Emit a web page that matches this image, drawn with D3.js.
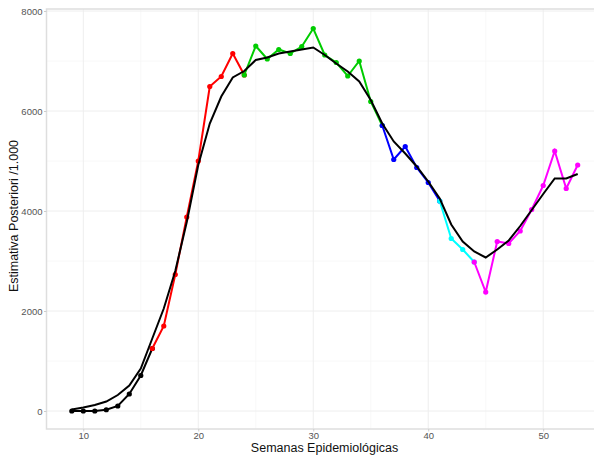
<!DOCTYPE html>
<html>
<head>
<meta charset="utf-8">
<script src="https://cdn.jsdelivr.net/npm/d3@7"></script>
<style>
body { margin: 0; background: #fff; }
text { font-family: "Liberation Sans", Arial, sans-serif; }
</style>
</head>
<body>
<svg width="594" height="456"></svg>
<script>
var svg = d3.select("svg"),
	width = +svg.attr("width"),
	height = +svg.attr("height");

// observed weekly estimates (x1000), split by period
var weeks = d3.range(9, 54);
var observed = [0, 0, 0, 25, 100, 340, 710, 1250, 1700, 2730, 3880, 5000, 6490, 6690, 7150,
	6720, 7300, 7040, 7230, 7150, 7290, 7650, 7120, 6970, 6700, 7000, 6190,
	5710, 5030, 5290, 4870, 4570,
	4200, 3450, 3230,
	2980, 2380, 3390, 3350, 3600, 4030, 4510, 5200, 4450, 4920];
// smoothed fit
var fitted = [30, 70, 120, 190, 320, 510, 850, 1450, 2050, 2800, 3780, 4920, 5750, 6290, 6670,
	6800, 7020, 7070, 7150, 7190, 7230, 7270, 7120, 6950, 6790, 6590, 6220,
	5750, 5390, 5150, 4890, 4590,
	4250, 3730, 3390,
	3190, 3070, 3230, 3410, 3700, 4020, 4340, 4650, 4650, 4740];
// period segments: [first week, last week, colour]
var segments = [
	[9, 16, "#000000"],
	[16, 24, "#ff0000"],
	[24, 36, "#00cc00"],
	[36, 41, "#0000ff"],
	[41, 44, "#00ffff"],
	[44, 53, "#ff00ff"]
];
var xTicks = [10, 20, 30, 40, 50];
var yTicks = [0, 2000, 4000, 6000, 8000];

var pLeft = 46.5, pRight = 603, pTop = 9, pBottom = 429;

var x = d3.scaleLinear().domain([6.8, 55.2]).range([pLeft, pRight]);
var y = d3.scaleLinear().domain([-360, 8040]).range([pBottom, pTop]);

var g = svg.append("g");

// minor grid
g.selectAll(".gxm").data([15, 25, 35, 45, 55]).enter().append("line")
	.attr("x1", x).attr("x2", x).attr("y1", pTop).attr("y2", pBottom)
	.attr("stroke", "#f6f6f6").attr("stroke-width", 0.8);
g.selectAll(".gym").data([1000, 3000, 5000, 7000]).enter().append("line")
	.attr("x1", pLeft).attr("x2", pRight).attr("y1", y).attr("y2", y)
	.attr("stroke", "#f6f6f6").attr("stroke-width", 0.8);
// major grid
g.selectAll(".gx").data(xTicks).enter().append("line")
	.attr("x1", x).attr("x2", x).attr("y1", pTop).attr("y2", pBottom)
	.attr("stroke", "#eeeeee").attr("stroke-width", 1);
g.selectAll(".gy").data(yTicks).enter().append("line")
	.attr("x1", pLeft).attr("x2", pRight).attr("y1", y).attr("y2", y)
	.attr("stroke", "#eeeeee").attr("stroke-width", 1);

// panel border
g.append("rect")
	.attr("x", pLeft).attr("y", pTop)
	.attr("width", pRight - pLeft).attr("height", pBottom - pTop)
	.attr("fill", "none").attr("stroke", "#dedede").attr("stroke-width", 1.5);

// axes
var xAxis = g.append("g")
	.attr("transform", "translate(0," + pBottom + ")")
	.call(d3.axisBottom(x).tickValues(xTicks).tickSize(2.5).tickPadding(1));
var yAxis = g.append("g")
	.attr("transform", "translate(" + pLeft + ",0)")
	.call(d3.axisLeft(y).tickValues(yTicks).tickFormat(d3.format("d")).tickSize(2.5).tickPadding(1.5));
[xAxis, yAxis].forEach(function(a) {
	a.select(".domain").remove();
	a.selectAll("line").attr("stroke", "#cccccc");
	a.selectAll("text").attr("fill", "#555555").style("font-size", "9.5px");
});

var pts = weeks.map(function(w, i) { return {w: w, v: observed[i], f: fitted[i]}; });

var line = d3.line()
	.x(function(d) { return x(d.w); })
	.y(function(d) { return y(d.v); });

segments.forEach(function(s) {
	var sub = pts.filter(function(d) { return d.w >= s[0] && d.w <= s[1]; });
	g.append("path")
		.datum(sub)
		.attr("d", line)
		.attr("fill", "none")
		.attr("stroke", s[2])
		.attr("stroke-width", 2);
	g.selectAll(null)
		.data(sub)
		.enter().append("circle")
		.attr("cx", function(d) { return x(d.w); })
		.attr("cy", function(d) { return y(d.v); })
		.attr("r", 2.6)
		.attr("fill", s[2]);
});

var fitLine = d3.line()
	.x(function(d) { return x(d.w); })
	.y(function(d) { return y(d.f); });

g.append("path")
	.datum(pts)
	.attr("d", fitLine)
	.attr("fill", "none")
	.attr("stroke", "#000000")
	.attr("stroke-width", 2);

// titles
svg.append("text")
	.attr("x", 324.5)
	.attr("y", 452)
	.attr("text-anchor", "middle")
	.style("font-size", "12.5px")
	.attr("fill", "#111")
	.text("Semanas Epidemiológicas");

svg.append("text")
	.attr("transform", "translate(18," + 216 + ") rotate(-90)")
	.attr("text-anchor", "middle")
	.style("font-size", "12.5px")
	.attr("fill", "#111")
	.text("Estimativa Posteriori /1.000");
</script>
</body>
</html>
